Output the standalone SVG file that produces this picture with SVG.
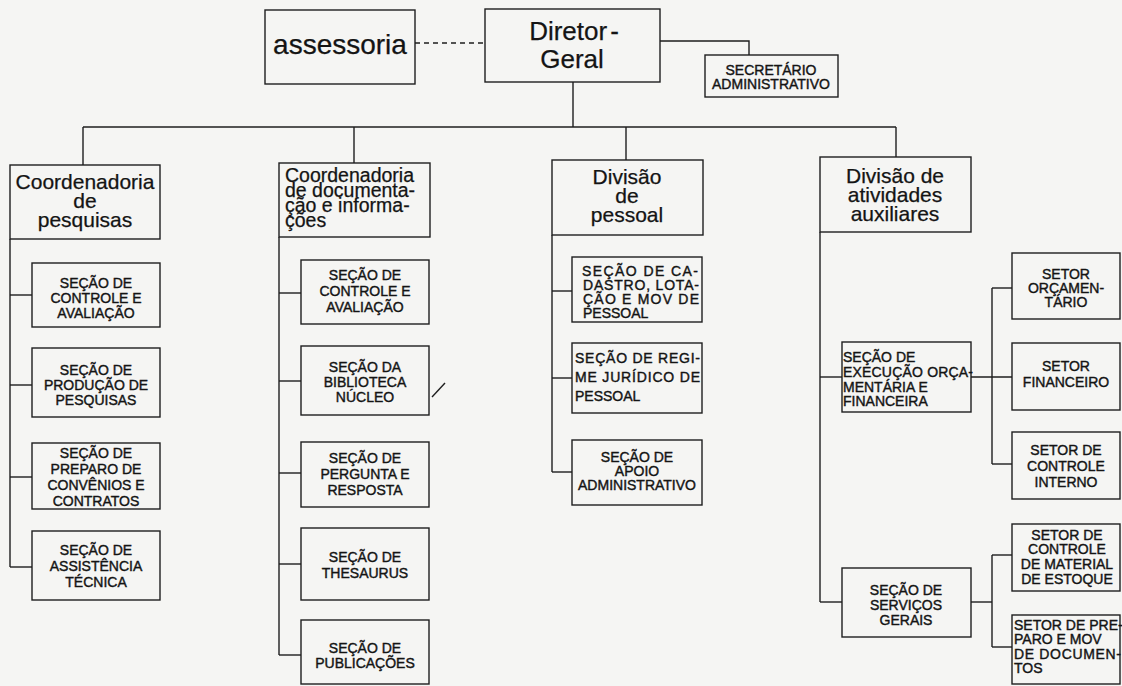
<svg xmlns="http://www.w3.org/2000/svg" width="1122" height="686" viewBox="0 0 1122 686">
<style>
.bx{fill:none;stroke:#1e1e1e;stroke-width:1.4}
.ln{fill:none;stroke:#1e1e1e;stroke-width:1.4}
.big{font-family:"Liberation Sans",Arial,sans-serif;fill:#141414;stroke:#141414;stroke-width:0.25}
.sm{font-family:"Liberation Sans",Arial,sans-serif;font-size:14px;fill:#141414;stroke:#141414;stroke-width:0.4}
.c{text-anchor:middle}
</style>
<rect x="0" y="0" width="1122" height="686" fill="#f5f5f3"/>
<g id="connectors">
<line class="ln" x1="415" y1="43" x2="485" y2="43" stroke-dasharray="5,4"/>
<polyline class="ln" points="660,41 749,41 749,55"/>
<line class="ln" x1="573" y1="82" x2="573" y2="127"/>
<line class="ln" x1="83" y1="127" x2="896" y2="127"/>
<line class="ln" x1="83" y1="127" x2="83" y2="165"/>
<line class="ln" x1="354" y1="127" x2="354" y2="163"/>
<line class="ln" x1="626" y1="127" x2="626" y2="160"/>
<line class="ln" x1="896" y1="127" x2="896" y2="157"/>
<line class="ln" x1="10" y1="239" x2="10" y2="567"/>
<line class="ln" x1="10" y1="295" x2="32" y2="295"/>
<line class="ln" x1="10" y1="385" x2="32" y2="385"/>
<line class="ln" x1="10" y1="477" x2="32" y2="477"/>
<line class="ln" x1="10" y1="567" x2="32" y2="567"/>
<line class="ln" x1="279" y1="237" x2="279" y2="655"/>
<line class="ln" x1="279" y1="293" x2="301" y2="293"/>
<line class="ln" x1="279" y1="381" x2="301" y2="381"/>
<line class="ln" x1="279" y1="473" x2="301" y2="473"/>
<line class="ln" x1="279" y1="564" x2="301" y2="564"/>
<line class="ln" x1="279" y1="655" x2="301" y2="655"/>
<line class="ln" x1="552" y1="235" x2="552" y2="472"/>
<line class="ln" x1="552" y1="291" x2="572" y2="291"/>
<line class="ln" x1="552" y1="378" x2="572" y2="378"/>
<line class="ln" x1="552" y1="472" x2="572" y2="472"/>
<line class="ln" x1="820" y1="232" x2="820" y2="602"/>
<line class="ln" x1="820" y1="377" x2="842" y2="377"/>
<line class="ln" x1="820" y1="602" x2="842" y2="602"/>
<line class="ln" x1="971" y1="377" x2="1012" y2="377"/>
<line class="ln" x1="992" y1="288" x2="992" y2="464"/>
<line class="ln" x1="992" y1="288" x2="1012" y2="288"/>
<line class="ln" x1="992" y1="464" x2="1012" y2="464"/>
<line class="ln" x1="971" y1="602" x2="992" y2="602"/>
<line class="ln" x1="992" y1="555" x2="992" y2="647"/>
<line class="ln" x1="992" y1="555" x2="1012" y2="555"/>
<line class="ln" x1="992" y1="647" x2="1012" y2="647"/>
<line class="ln" x1="432" y1="397" x2="445" y2="383" stroke-width="1.2"/>
</g>
<g id="assessoria">
<rect class="bx" x="265" y="10" width="150" height="74"/>
<text class="big c" x="340" y="54" font-size="28">assessoria</text>
</g>
<g id="diretor-geral">
<rect class="bx" x="485" y="9" width="175" height="73"/>
<text class="big c" x="574" y="40" font-size="26">Diretor<tspan dx="3">-</tspan></text>
<text class="big c" x="572" y="68" font-size="26">Geral</text>
</g>
<g id="secretario">
<rect class="bx" x="705" y="55" width="133" height="42"/>
<text class="sm c" x="771" y="75" font-size="13">SECRETÁRIO</text>
<text class="sm c" x="771" y="89" font-size="13">ADMINISTRATIVO</text>
</g>
<g id="coord-pesquisas">
<rect class="bx" x="10" y="165" width="150" height="74"/>
<text class="big c" x="85" y="189" font-size="21">Coordenadoria</text>
<text class="big c" x="85" y="208" font-size="21">de</text>
<text class="big c" x="85" y="227" font-size="21">pesquisas</text>
</g>
<g id="p1">
<rect class="bx" x="32" y="263" width="128" height="64"/>
<text class="sm c" x="96" y="288">SEÇÃO DE</text>
<text class="sm c" x="96" y="303">CONTROLE E</text>
<text class="sm c" x="96" y="318">AVALIAÇÃO</text>
</g>
<g id="p2">
<rect class="bx" x="32" y="348" width="128" height="69"/>
<text class="sm c" x="96" y="375">SEÇÃO DE</text>
<text class="sm c" x="96" y="390">PRODUÇÃO DE</text>
<text class="sm c" x="96" y="405">PESQUISAS</text>
</g>
<g id="p3">
<rect class="bx" x="32" y="443" width="128" height="66"/>
<text class="sm c" x="96" y="458">SEÇÃO DE</text>
<text class="sm c" x="96" y="474">PREPARO DE</text>
<text class="sm c" x="96" y="490">CONVÊNIOS E</text>
<text class="sm c" x="96" y="506">CONTRATOS</text>
</g>
<g id="p4">
<rect class="bx" x="32" y="531" width="128" height="69"/>
<text class="sm c" x="96" y="555">SEÇÃO DE</text>
<text class="sm c" x="96" y="571">ASSISTÊNCIA</text>
<text class="sm c" x="96" y="587">TÉCNICA</text>
</g>
<g id="coord-documentacao">
<rect class="bx" x="279" y="163" width="151" height="74"/>
<text class="big" x="285" y="182" font-size="19.5">Coordenadoria</text>
<text class="big" x="285" y="197" font-size="19.5">de documenta-</text>
<text class="big" x="285" y="212" font-size="19.5">ção e informa-</text>
<text class="big" x="285" y="227" font-size="19.5">ções</text>
</g>
<g id="d1">
<rect class="bx" x="301" y="260" width="128" height="64"/>
<text class="sm c" x="365" y="280">SEÇÃO DE</text>
<text class="sm c" x="365" y="296">CONTROLE E</text>
<text class="sm c" x="365" y="312">AVALIAÇÃO</text>
</g>
<g id="d2">
<rect class="bx" x="301" y="346" width="128" height="69"/>
<text class="sm c" x="365" y="372">SEÇÃO DA</text>
<text class="sm c" x="365" y="387">BIBLIOTECA</text>
<text class="sm c" x="365" y="402">NÚCLEO</text>
</g>
<g id="d3">
<rect class="bx" x="301" y="442" width="128" height="65"/>
<text class="sm c" x="365" y="463">SEÇÃO DE</text>
<text class="sm c" x="365" y="479">PERGUNTA E</text>
<text class="sm c" x="365" y="495">RESPOSTA</text>
</g>
<g id="d4">
<rect class="bx" x="301" y="528" width="128" height="72"/>
<text class="sm c" x="365" y="562">SEÇÃO DE</text>
<text class="sm c" x="365" y="578">THESAURUS</text>
</g>
<g id="d5">
<rect class="bx" x="301" y="620" width="128" height="64"/>
<text class="sm c" x="365" y="653">SEÇÃO DE</text>
<text class="sm c" x="365" y="668">PUBLICAÇÕES</text>
</g>
<g id="div-pessoal">
<rect class="bx" x="552" y="160" width="151" height="75"/>
<text class="big c" x="627" y="184" font-size="21">Divisão</text>
<text class="big c" x="627" y="203" font-size="21">de</text>
<text class="big c" x="627" y="222" font-size="21">pessoal</text>
</g>
<g id="s1">
<rect class="bx" x="572" y="257" width="130" height="65"/>
<text class="sm" x="582" y="276" textLength="116" lengthAdjust="spacing">SEÇÃO DE CA-</text>
<text class="sm" x="583" y="290" textLength="116" lengthAdjust="spacing">DASTRO, LOTA-</text>
<text class="sm" x="583" y="304" textLength="116" lengthAdjust="spacing">ÇÃO E MOV DE</text>
<text class="sm" x="583" y="318">PESSOAL</text>
</g>
<g id="s2">
<rect class="bx" x="572" y="343" width="130" height="70"/>
<text class="sm" x="575" y="363" textLength="125" lengthAdjust="spacing">SEÇÃO DE REGI-</text>
<text class="sm" x="575" y="382" textLength="125" lengthAdjust="spacing">ME JURÍDICO DE</text>
<text class="sm" x="575" y="401">PESSOAL</text>
</g>
<g id="s3">
<rect class="bx" x="572" y="440" width="130" height="65"/>
<text class="sm c" x="637" y="462">SEÇÃO DE</text>
<text class="sm c" x="637" y="476">APOIO</text>
<text class="sm c" x="637" y="490">ADMINISTRATIVO</text>
</g>
<g id="div-atividades">
<rect class="bx" x="820" y="157" width="151" height="75"/>
<text class="big c" x="895" y="183" font-size="21">Divisão de</text>
<text class="big c" x="895" y="202" font-size="21">atividades</text>
<text class="big c" x="895" y="221" font-size="21">auxiliares</text>
</g>
<g id="execucao">
<rect class="bx" x="842" y="342" width="129" height="70"/>
<text class="sm" x="843" y="362">SEÇÃO DE</text>
<text class="sm" x="843" y="377" textLength="130" lengthAdjust="spacing">EXECUÇÃO ORÇA-</text>
<text class="sm" x="843" y="392">MENTÁRIA E</text>
<text class="sm" x="843" y="406">FINANCEIRA</text>
</g>
<g id="setor-orcamentario">
<rect class="bx" x="1012" y="253" width="108" height="66"/>
<text class="sm c" x="1066" y="279">SETOR</text>
<text class="sm c" x="1066" y="293">ORÇAMEN-</text>
<text class="sm c" x="1066" y="307">TÁRIO</text>
</g>
<g id="setor-financeiro">
<rect class="bx" x="1012" y="343" width="108" height="67"/>
<text class="sm c" x="1066" y="371">SETOR</text>
<text class="sm c" x="1066" y="387">FINANCEIRO</text>
</g>
<g id="setor-controle-interno">
<rect class="bx" x="1012" y="432" width="108" height="67"/>
<text class="sm c" x="1066" y="455">SETOR DE</text>
<text class="sm c" x="1066" y="471">CONTROLE</text>
<text class="sm c" x="1066" y="487">INTERNO</text>
</g>
<g id="servicos-gerais">
<rect class="bx" x="842" y="568" width="129" height="69"/>
<text class="sm c" x="906" y="595">SEÇÃO DE</text>
<text class="sm c" x="906" y="610">SERVIÇOS</text>
<text class="sm c" x="906" y="625">GERAIS</text>
</g>
<g id="setor-material">
<rect class="bx" x="1012" y="524" width="108" height="67"/>
<text class="sm c" x="1067" y="540">SETOR DE</text>
<text class="sm c" x="1067" y="554">CONTROLE</text>
<text class="sm c" x="1067" y="569">DE MATERIAL</text>
<text class="sm c" x="1067" y="584">DE ESTOQUE</text>
</g>
<g id="setor-preparo">
<rect class="bx" x="1012" y="615" width="108" height="69"/>
<text class="sm" x="1014" y="630">SETOR DE PRE-</text>
<text class="sm" x="1014" y="644">PARO E MOV</text>
<text class="sm" x="1014" y="659" textLength="107" lengthAdjust="spacing">DE DOCUMEN-</text>
<text class="sm" x="1014" y="673">TOS</text>
</g>
</svg>
